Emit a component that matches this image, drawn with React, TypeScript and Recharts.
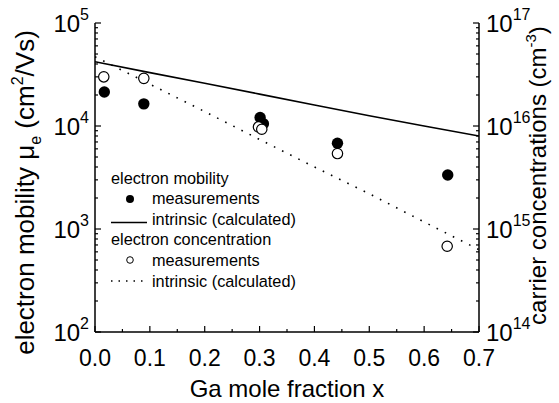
import React from "react";
import { ComposedChart, Line, Scatter, XAxis, YAxis, Label } from "recharts";

const FONT = "'Liberation Sans', Arial, Helvetica, sans-serif";
const INK = "#000";

// Ga mole fraction x
const xTicks = [0, 0.05, 0.1, 0.15, 0.2, 0.25, 0.3, 0.35, 0.4, 0.45, 0.5, 0.55, 0.6, 0.65, 0.7];

// decades on the two log axes
const muDecades = [1e2, 1e3, 1e4, 1e5];
const nDecades = [1e14, 1e15, 1e16, 1e17];

// electron mobility measurements (cm^2/Vs)
const muMeasX = [0.017, 0.089, 0.301, 0.307, 0.442, 0.643];
const muMeasY = [21400, 16400, 12100, 10500, 6800, 3340];

// electron concentration measurements (cm^-3)
const nMeasX = [0.016, 0.089, 0.298, 0.304, 0.442, 0.642];
const nMeasY = [3.0e16, 2.9e16, 9.8e15, 9.3e15, 5.4e15, 6.8e14];

// intrinsic (calculated) curves
const calcX = [0, 0.1, 0.2, 0.3, 0.4, 0.5, 0.6, 0.7];
const muCalc = [42000, 33000, 26000, 20400, 16000, 12600, 10000, 8000];
const nCalc = [4.7e16, 2.55e16, 1.38e16, 7.4e15, 4.0e15, 2.2e15, 1.17e15, 6.3e14];

const W = 559;
const H = 403;

// decades plus 2..9 minor ticks in between
function logTicks(decades: number[]) {
  const out: number[] = [];
  decades.forEach((d, i) => {
    out.push(d);
    if (i < decades.length - 1) for (let k = 2; k <= 9; k++) out.push(d * k);
  });
  return out;
}

const isDecade = (v: number) => Math.abs(Math.log10(v) - Math.round(Math.log10(v))) < 1e-6;

const muData = muMeasX.map((x, i) => ({ x, mu: muMeasY[i] }));
const nData = nMeasX.map((x, i) => ({ x, n: nMeasY[i] }));
const muCalcData = calcX.map((x, i) => ({ x, mu: muCalc[i] }));
const nCalcData = calcX.map((x, i) => ({ x, n: nCalc[i] }));

const DOTTED = "1.6 7.5";

function PowerLabel({ x, y, exp, anchor }: { x: number; y: number; exp: number; anchor: "start" | "end" }) {
  return (
    <text x={x} y={y} textAnchor={anchor} fontFamily={FONT} fill={INK}>
      <tspan fontSize={24} dy={8.5}>10</tspan>
      <tspan fontSize={16} dy={-11.5}>{exp}</tspan>
    </text>
  );
}

function LeftTick(props: any) {
  const { x, y, payload } = props;
  const v = payload.value;
  const major = isDecade(v);
  return (
    <g>
      <line x1={x} x2={x + (major ? 6 : 3)} y1={y} y2={y} stroke={INK} strokeWidth={1.2} />
      {major && <PowerLabel x={x - 6} y={y} exp={Math.round(Math.log10(v))} anchor="end" />}
    </g>
  );
}

function RightTick(props: any) {
  const { x, y, payload } = props;
  const v = payload.value;
  const major = isDecade(v);
  return (
    <g>
      <line x1={x} x2={x - (major ? 6 : 3)} y1={y} y2={y} stroke={INK} strokeWidth={1.2} />
      {major && <PowerLabel x={x + 7} y={y} exp={Math.round(Math.log10(v))} anchor="start" />}
    </g>
  );
}

function BottomTick(props: any) {
  const { x, y, payload } = props;
  const v = payload.value;
  const major = Math.round(v * 100) % 10 === 0;
  return (
    <g>
      <line x1={x} x2={x} y1={y} y2={y - (major ? 6 : 3)} stroke={INK} strokeWidth={1.2} />
      {major && (
        <text x={x} y={y + 33.5} textAnchor="middle" fontFamily={FONT} fontSize={23} fill={INK}>
          {v.toFixed(1)}
        </text>
      )}
    </g>
  );
}

function TopTick(props: any) {
  const { x, y, payload } = props;
  const major = Math.round(payload.value * 100) % 10 === 0;
  return <line x1={x} x2={x} y1={y} y2={y + (major ? 6 : 3)} stroke={INK} strokeWidth={1.2} />;
}

function MuTitle(props: any) {
  const { x, y, height } = props.viewBox;
  return (
    <text
      transform={`translate(${x + 34},${y + height / 2 + 15}) rotate(-90)`}
      textAnchor="middle"
      fontFamily={FONT}
      fontSize={26}
      fill={INK}
    >
      <tspan>electron mobility μ</tspan>
      <tspan fontSize={16} dy={7}>e</tspan>
      <tspan dy={-7}> (cm</tspan>
      <tspan fontSize={16} dy={-11}>2</tspan>
      <tspan dy={11}>/Vs)</tspan>
    </text>
  );
}

function NTitle(props: any) {
  const { x, y, height } = props.viewBox;
  return (
    <text
      transform={`translate(${x + 67},${y + height / 2 - 2}) rotate(-90)`}
      textAnchor="middle"
      fontFamily={FONT}
      fontSize={24}
      fill={INK}
    >
      <tspan>carrier concentrations (cm</tspan>
      <tspan fontSize={15} dy={-10}>-3</tspan>
      <tspan dy={10}>)</tspan>
    </text>
  );
}

function XTitle(props: any) {
  const { x, y, width } = props.viewBox;
  return (
    <text x={x + width / 2} y={y + 65} textAnchor="middle" fontFamily={FONT} fontSize={24} fill={INK}>
      Ga mole fraction x
    </text>
  );
}

const filledDot = (r: number) => (p: any) => <circle cx={p.cx} cy={p.cy} r={r} fill={INK} />;
const openDot = (r: number) => (p: any) => (
  <circle cx={p.cx} cy={p.cy} r={r} fill="#fff" stroke={INK} strokeWidth={1.2} />
);

function Key() {
  const t = { fontFamily: FONT, fontSize: 16.3, fill: INK } as const;
  return (
    <svg width={W} height={H} style={{ position: "absolute", left: 0, top: 0, pointerEvents: "none" }}>
      <text x={111} y={183.5} {...t}>electron mobility</text>
      <circle cx={130} cy={199} r={4} fill={INK} />
      <text x={152} y={204.1} {...t}>measurements</text>
      <line x1={111} x2={147} y1={222.5} y2={222.5} stroke={INK} strokeWidth={1.5} />
      <text x={152} y={224.7} {...t}>intrinsic (calculated)</text>
      <text x={111} y={245.3} {...t}>electron concentration</text>
      <circle cx={130} cy={260} r={3.3} fill="#fff" stroke={INK} strokeWidth={1} />
      <text x={152} y={265.9} {...t}>measurements</text>
      <line x1={111} x2={147} y1={281} y2={281} stroke={INK} strokeWidth={1.5} strokeDasharray="1.5 6" />
      <text x={152} y={286.5} {...t}>intrinsic (calculated)</text>
    </svg>
  );
}

export default function App() {
  const axisLine = { stroke: INK, strokeWidth: 1.5 };
  return (
    <div style={{ position: "absolute", left: 0, top: 0, width: W, height: H, background: "#fff" }}>
      <ComposedChart width={W} height={H} margin={{ top: 23, right: 0, bottom: 0, left: 0 }}>
        <XAxis
          dataKey="x"
          type="number"
          domain={[0, 0.7]}
          ticks={xTicks}
          interval={0}
          allowDataOverflow
          height={71}
          tickSize={0}
          tickMargin={0}
          axisLine={axisLine}
          tick={<BottomTick />}
        >
          <Label content={<XTitle />} />
        </XAxis>
        <XAxis
          xAxisId="top"
          orientation="top"
          dataKey="x"
          type="number"
          domain={[0, 0.7]}
          ticks={xTicks}
          interval={0}
          allowDataOverflow
          height={0}
          tickSize={0}
          tickMargin={0}
          axisLine={axisLine}
          tick={<TopTick />}
        />
        <YAxis
          yAxisId="mu"
          type="number"
          scale="log"
          domain={[1e2, 1e5]}
          ticks={logTicks(muDecades)}
          interval={0}
          allowDataOverflow
          width={95}
          tickSize={0}
          tickMargin={0}
          axisLine={axisLine}
          tick={<LeftTick />}
        >
          <Label content={<MuTitle />} />
        </YAxis>
        <YAxis
          yAxisId="n"
          orientation="right"
          type="number"
          scale="log"
          domain={[1e14, 1e17]}
          ticks={logTicks(nDecades)}
          interval={0}
          allowDataOverflow
          width={80}
          tickSize={0}
          tickMargin={0}
          axisLine={axisLine}
          tick={<RightTick />}
        >
          <Label content={<NTitle />} />
        </YAxis>

        <Line
          yAxisId="mu"
          data={muCalcData}
          dataKey="mu"
          type="linear"
          stroke={INK}
          strokeWidth={1.6}
          dot={false}
          isAnimationActive={false}
        />
        <Line
          yAxisId="n"
          data={nCalcData}
          dataKey="n"
          type="linear"
          stroke={INK}
          strokeWidth={1.6}
          strokeDasharray={DOTTED}
          dot={false}
          isAnimationActive={false}
        />
        <Scatter yAxisId="mu" data={muData} dataKey="mu" shape={filledDot(5.7)} isAnimationActive={false} />
        <Scatter yAxisId="n" data={nData} dataKey="n" shape={openDot(5.2)} isAnimationActive={false} />
      </ComposedChart>
      <Key />
    </div>
  );
}
